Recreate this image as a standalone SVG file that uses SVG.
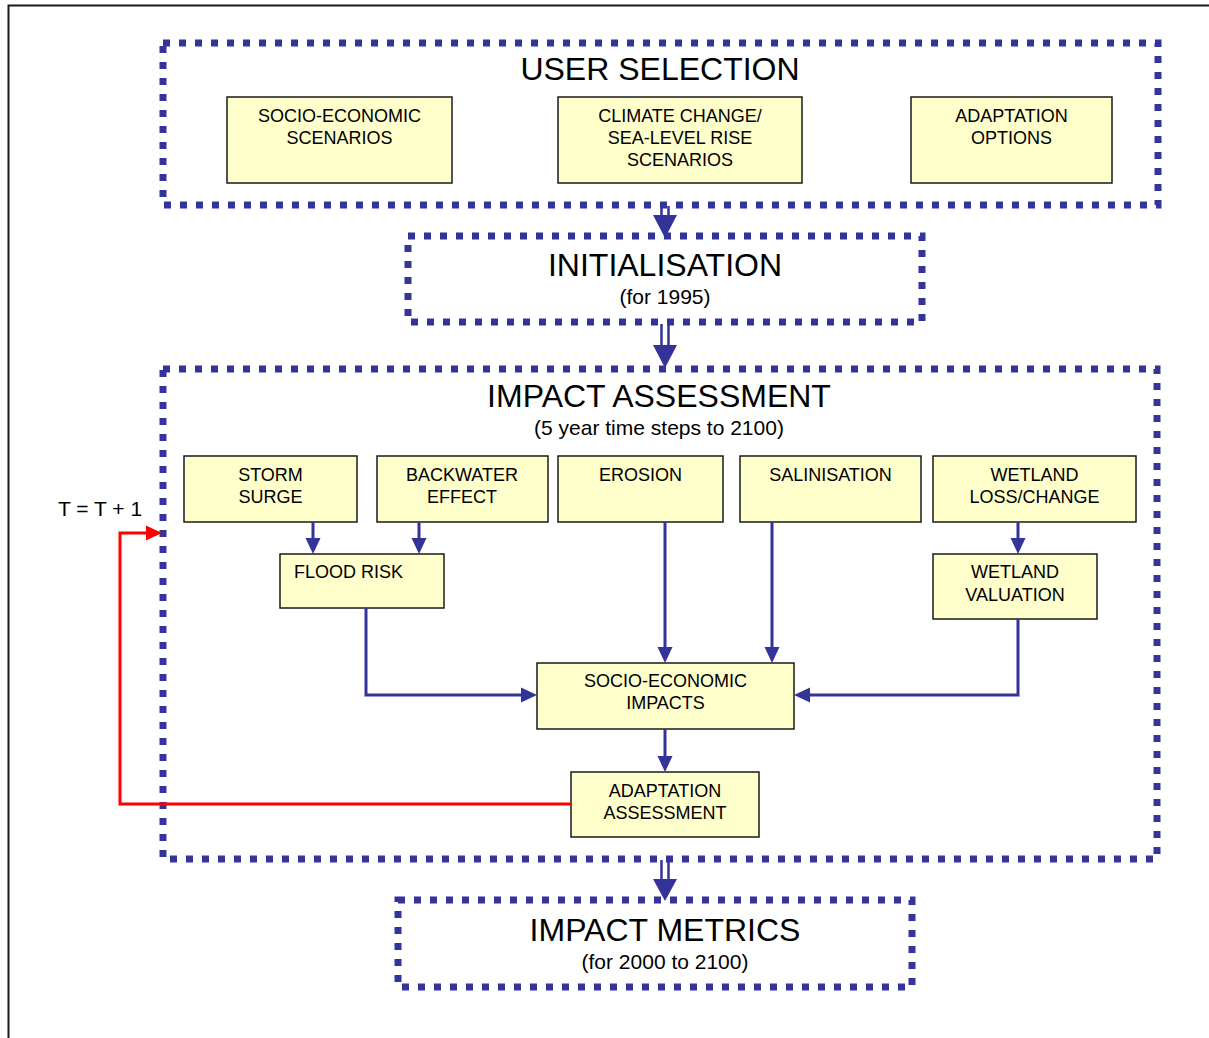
<svg xmlns="http://www.w3.org/2000/svg" width="1209" height="1038" viewBox="0 0 1209 1038">
<defs>
<style>
.frame{fill:none;stroke:#1a1a1a;stroke-width:2}
.dotbox{fill:none;stroke:#333399;stroke-width:7;stroke-dasharray:7 9}
.node{fill:#FFFFCC;stroke:#1a1a1a;stroke-width:1.5}
.t{font-family:"Liberation Sans",Arial,Helvetica,sans-serif;font-size:18px;fill:#000;text-anchor:middle}
.tl{font-family:"Liberation Sans",Arial,Helvetica,sans-serif;font-size:18px;fill:#000}
.sub{font-family:"Liberation Sans",Arial,Helvetica,sans-serif;font-size:21px;fill:#000;text-anchor:middle}
.lbl{font-family:"Liberation Sans",Arial,Helvetica,sans-serif;font-size:21px;fill:#000}
.title{font-family:"Liberation Sans",Arial,Helvetica,sans-serif;font-size:32px;fill:#000;text-anchor:middle}
.conn{fill:none;stroke:#333399;stroke-width:3}
.red{fill:none;stroke:#FF0000;stroke-width:3}
.dshaft{fill:none;stroke:#333399;stroke-width:2.5}
.dhead{fill:#333399;stroke:none}
</style>
<marker id="ab" markerUnits="userSpaceOnUse" markerWidth="16" markerHeight="16" viewBox="0 0 16 16" refX="2" refY="8" orient="auto">
<path d="M0,0.5 L16,8 L0,15.5 z" fill="#333399"/>
</marker>
<marker id="ar" markerUnits="userSpaceOnUse" markerWidth="16" markerHeight="16" viewBox="0 0 16 16" refX="2" refY="8" orient="auto">
<path d="M0,0.5 L16,8 L0,15.5 z" fill="#FF0000"/>
</marker>
</defs>
<rect width="1209" height="1038" fill="#fff"/>
<path class="frame" d="M8.5,1038 V5.5 H1209"/>

<g id="user-selection">
<rect class="dotbox" x="163" y="43" width="995" height="162"/>
<text class="title" x="660" y="80">USER SELECTION</text>
</g>
<g id="socio-economic-scenarios">
<rect class="node" x="227" y="97" width="225" height="86"/>
<text class="t" x="339.5" y="122">SOCIO-ECONOMIC</text>
<text class="t" x="339.5" y="144">SCENARIOS</text>
</g>
<g id="climate-change">
<rect class="node" x="558" y="97" width="244" height="86"/>
<text class="t" x="680" y="122">CLIMATE CHANGE/</text>
<text class="t" x="680" y="144">SEA-LEVEL RISE</text>
<text class="t" x="680" y="166">SCENARIOS</text>
</g>
<g id="adaptation-options">
<rect class="node" x="911" y="97" width="201" height="86"/>
<text class="t" x="1011.5" y="122">ADAPTATION</text>
<text class="t" x="1011.5" y="144">OPTIONS</text>
</g>

<g id="initialisation">
<rect class="dotbox" x="408" y="236" width="514" height="86"/>
<text class="title" x="665" y="276">INITIALISATION</text>
<text class="sub" x="665" y="304">(for 1995)</text>
</g>

<g id="impact-assessment">
<rect class="dotbox" x="163" y="369" width="994" height="490"/>
<text class="title" x="659" y="407">IMPACT ASSESSMENT</text>
<text class="sub" x="659" y="435">(5 year time steps to 2100)</text>
</g>
<g id="storm-surge">
<rect class="node" x="184" y="456" width="173" height="66"/>
<text class="t" x="270.5" y="481">STORM</text>
<text class="t" x="270.5" y="503">SURGE</text>
</g>
<g id="backwater-effect">
<rect class="node" x="377" y="456" width="171" height="66"/>
<text class="t" x="462" y="481">BACKWATER</text>
<text class="t" x="462" y="503">EFFECT</text>
</g>
<g id="erosion">
<rect class="node" x="558" y="456" width="165" height="66"/>
<text class="t" x="640.5" y="481">EROSION</text>
</g>
<g id="salinisation">
<rect class="node" x="740" y="456" width="181" height="66"/>
<text class="t" x="830.5" y="481">SALINISATION</text>
</g>
<g id="wetland-loss">
<rect class="node" x="933" y="456" width="203" height="66"/>
<text class="t" x="1034.5" y="481">WETLAND</text>
<text class="t" x="1034.5" y="503">LOSS/CHANGE</text>
</g>
<g id="flood-risk">
<rect class="node" x="280" y="554" width="164" height="54"/>
<text class="tl" x="294" y="578">FLOOD RISK</text>
</g>
<g id="wetland-valuation">
<rect class="node" x="933" y="554" width="164" height="65"/>
<text class="t" x="1015" y="578">WETLAND</text>
<text class="t" x="1015" y="601">VALUATION</text>
</g>
<g id="socio-economic-impacts">
<rect class="node" x="537" y="663" width="257" height="66"/>
<text class="t" x="665.5" y="687">SOCIO-ECONOMIC</text>
<text class="t" x="665.5" y="709">IMPACTS</text>
</g>
<g id="adaptation-assessment">
<rect class="node" x="571" y="772" width="188" height="65"/>
<text class="t" x="665" y="797">ADAPTATION</text>
<text class="t" x="665" y="819">ASSESSMENT</text>
</g>

<g id="impact-metrics">
<rect class="dotbox" x="398" y="900" width="514" height="87"/>
<text class="title" x="665" y="941">IMPACT METRICS</text>
<text class="sub" x="665" y="969">(for 2000 to 2100)</text>
</g>

<g id="label-t">
<text class="lbl" x="58" y="516">T = T + 1</text>
</g>

<g id="connectors">
<path class="dshaft" d="M661.5,206 V216 M668.5,206 V216"/>
<polygon class="dhead" points="653,215 677,215 665,238"/>
<path class="dshaft" d="M661.5,324 V346 M668.5,324 V346"/>
<polygon class="dhead" points="653,345 677,345 665,368"/>
<path class="dshaft" d="M661.5,860 V880 M668.5,860 V880"/>
<polygon class="dhead" points="653,879 677,879 665,901"/>

<path class="conn" d="M313,522 V540" marker-end="url(#ab)"/>
<path class="conn" d="M419,522 V540" marker-end="url(#ab)"/>
<path class="conn" d="M665,522 V649" marker-end="url(#ab)"/>
<path class="conn" d="M772,522 V649" marker-end="url(#ab)"/>
<path class="conn" d="M1018,522 V540" marker-end="url(#ab)"/>
<path class="conn" d="M366,608 V695 H523" marker-end="url(#ab)"/>
<path class="conn" d="M1018,619 V695 H808" marker-end="url(#ab)"/>
<path class="conn" d="M665,729 V758" marker-end="url(#ab)"/>
<path class="red" d="M571,804 H120 V533 H148" marker-end="url(#ar)"/>
</g>
</svg>
